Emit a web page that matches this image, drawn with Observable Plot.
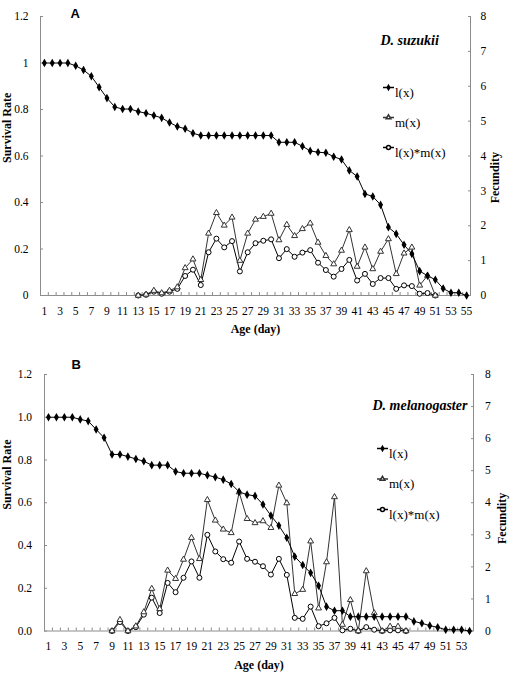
<!DOCTYPE html>
<html><head><meta charset="utf-8">
<script src="https://cdn.jsdelivr.net/npm/d3@7"></script>
<script src="https://cdn.jsdelivr.net/npm/@observablehq/plot@0.6"></script>
<style>
html,body{margin:0;padding:0;background:#fff;}
#chart{width:510px;height:676px;overflow:hidden;}
#chart svg{display:block;font-family:"Liberation Serif","Times New Roman",serif;}
#chart svg text{font-family:"Liberation Serif","Times New Roman",serif;}
#chart svg .sans text, #chart svg text.sans{font-family:"Liberation Sans",Arial,sans-serif;}
</style></head><body><div id="chart"></div>
<script>
// ---------- categories & ticks ----------
const agesA = d3.range(1, 56);
const agesB = d3.range(1, 55);
const ageTicksA = [1,3,5,7,9,11,13,15,17,19,21,23,25,27,29,31,33,35,37,39,41,43,45,47,49,51,53,55];
const ageTicksB = [1,3,5,7,9,11,13,15,17,19,21,23,25,27,29,31,33,35,37,39,41,43,45,47,49,51,53];
const survivalTicks = [0, 0.2, 0.4, 0.6, 0.8, 1.0, 1.2];
const fecundityTicks = [0, 1, 2, 3, 4, 5, 6, 7, 8];
const legendLabels = ["l(x)", "m(x)", "l(x)*m(x)"];

// ---------- Panel A: D. suzukii ----------
const lxA = [1,1,1,1,0.988,0.97,0.943,0.896,0.849,0.811,0.802,0.802,0.791,0.784,0.774,0.764,0.744,0.727,0.717,0.698,
  0.688,0.688,0.688,0.688,0.688,0.688,0.688,0.688,0.688,0.688,
  0.659,0.659,0.659,0.642,0.622,0.616,0.614,0.597,0.585,0.538,0.512,0.437,0.426,0.390,0.294,0.265,0.218,0.179,0.105,0.085,0.068,0.030,0.012,0.012,0];
const mxA = [null,null,null,null,null,null,null,null,null,null,null,null,
  0,0.03,0.14,0.07,0.14,0.24,0.79,1.04,0.45,1.78,2.37,2.01,2.24,1.0,1.78,2.18,2.26,2.35,1.59,2.03,1.71,1.91,2.07,1.52,1.14,0.90,1.29,1.88,0.83,1.38,0.76,1.26,1.62,0.62,1.21,1.38,0.29,0.57,0,
  null,null,null,null];
const lmxA = [null,null,null,null,null,null,null,null,null,null,null,null,
  0,0.02,0.11,0.05,0.11,0.19,0.56,0.74,0.30,1.24,1.63,1.38,1.56,0.69,1.24,1.50,1.57,1.61,1.07,1.33,1.11,1.23,1.30,0.94,0.73,0.54,0.76,1.02,0.43,0.62,0.33,0.50,0.50,0.19,0.29,0.27,0.05,0.07,0,
  null,null,null,null];

// ---------- Panel B: D. melanogaster ----------
const lxB = [1,1,1,1,0.99,0.982,0.943,0.904,0.826,0.826,0.816,0.805,0.794,0.776,0.776,0.776,0.746,0.738,0.738,0.738,
  0.729,0.72,0.708,0.688,0.651,0.638,0.632,0.592,0.54,0.493,0.436,0.348,0.309,0.272,0.212,0.114,0.095,0.095,
  0.067,0.067,0.067,0.067,0.067,0.067,0.067,0.067,0.045,0.036,0.025,0.017,0.006,0.006,0.006,0];
const mxB = [null,null,null,null,null,null,null,null,
  0,0.35,0,0.15,0.59,1.32,0.69,1.89,1.63,2.23,2.91,2.25,4.09,3.45,3.17,3.06,4.33,3.5,3.37,3.43,3.22,4.54,3.99,1.16,1.29,2.8,0.71,2.15,4.18,0.2,0.97,0,1.87,0.56,0,0.14,0.14,0,
  null,null,null,null,null,null,null,null];
const lmxB = [null,null,null,null,null,null,null,null,
  0,0.28,0,0.12,0.51,1.04,0.56,1.50,1.21,1.66,2.17,1.66,3.0,2.48,2.24,2.13,2.79,2.25,2.16,2.02,1.76,2.25,1.75,0.41,0.38,0.76,0.15,0.24,0.41,0.02,0.07,0,0.12,0.04,0,0.02,0.02,0,
  null,null,null,null,null,null,null,null];

const FEC = 1.2 / 8; // fecundity 0..8 drawn on survival 0..1.2 scale
const SERIF = "Liberation Serif";
const AXIS = "#8c8c8c";

const lineSym = {draw(ctx) { ctx.moveTo(-5.5, 0); ctx.lineTo(5.5, 0); }};

function panel(cfg) {
  const rows = cfg.ages.map((age, i) => ({age, lx: cfg.lx[i], mx: cfg.mx[i], lmx: cfg.lmx[i]}));
  const rm = rows.filter(d => d.mx != null);
  const rlm = rows.filter(d => d.lmx != null);
  const xd = [cfg.ages[0] - 0.5, cfg.ages[cfg.ages.length - 1] + 0.5];
  const bounds = d3.range(cfg.ages.length + 1).map(i => xd[0] + i);
  const styles = {
    lx: {symbol: "diamond", fill: "black", stroke: "black", r: 1.7},
    mx: {symbol: "triangle", fill: "white", stroke: "#333", r: 2.2},
    lmx: {symbol: "circle", fill: "white", stroke: "black", r: 2.5}
  };
  const legendMarks = legendLabels.flatMap((lab, i) => {
    const key = ["lx", "mx", "lmx"][i];
    const dy = cfg.legDy + i * cfg.legStep;
    return [
      Plot.dot([lab], {frameAnchor: "top-left", dx: cfg.legDx, dy, symbol: lineSym, stroke: key === "mx" ? "#333" : "black", fill: "none", r: 3}),
      Plot.dot([lab], {frameAnchor: "top-left", dx: cfg.legDx, dy, ...styles[key], r: styles[key].r * 0.8}),
      Plot.text([lab], {frameAnchor: "top-left", dx: cfg.legDx + 6.5, dy, text: d => d, textAnchor: "start", fontSize: 13, fontFamily: SERIF})
    ];
  });
  const tf = {fontFamily: SERIF, fontSize: 11.5};
  return Plot.plot({
    width: 510,
    height: cfg.height,
    marginLeft: cfg.ml, marginRight: cfg.mr, marginTop: cfg.mt, marginBottom: cfg.mb,
    x: {type: "linear", domain: xd},
    y: {type: "linear", domain: [0, 1.2]},
    style: {fontFamily: SERIF, fontSize: "11px", background: "white", color: "black", overflow: "visible"},
    marks: [
      // axis lines
      Plot.ruleY([0], {stroke: AXIS}),
      Plot.ruleX([xd[0]], {stroke: AXIS}),
      Plot.ruleX([xd[1]], {stroke: AXIS}),
      // x axis
      Plot.axisX(bounds, {tickSize: 3, insetBottom: 3, fill: "none", stroke: AXIS, label: null}),
      Plot.axisX(cfg.ageTicks, {tickSize: 0, tickPadding: cfg.xPad, stroke: "none", label: null, ...tf, tickFormat: d => String(d)}),
      // left axis
      Plot.axisY(survivalTicks, {anchor: "left", tickSize: 3, insetLeft: 3, fill: "none", stroke: AXIS, label: null}),
      Plot.axisY(survivalTicks, {anchor: "left", tickSize: 0, tickPadding: cfg.lPad, stroke: "none", label: null, ...tf, tickFormat: cfg.yFmt}),
      // right axis (fecundity)
      Plot.axisY(fecundityTicks.map(f => f * FEC), {anchor: "right", tickSize: 3, insetRight: 3, fill: "none", stroke: AXIS, label: null}),
      Plot.axisY(fecundityTicks.map(f => f * FEC), {anchor: "right", tickSize: 0, tickPadding: cfg.rPad, stroke: "none", label: null, ...tf, tickFormat: d => String(Math.round(d / FEC))}),
      // data
      Plot.line(rlm, {x: "age", y: d => d.lmx * FEC, stroke: "black", strokeWidth: 1}),
      Plot.line(rm, {x: "age", y: d => d.mx * FEC, stroke: "#333", strokeWidth: 1}),
      Plot.line(rows, {x: "age", y: "lx", stroke: "black", strokeWidth: 1}),
      Plot.dot(rlm, {x: "age", y: d => d.lmx * FEC, ...styles.lmx, strokeWidth: 1}),
      Plot.dot(rm, {x: "age", y: d => d.mx * FEC, ...styles.mx, strokeWidth: 1}),
      Plot.dot(rows, {x: "age", y: "lx", ...styles.lx}),
      // titles
      Plot.text([cfg.letter], {frameAnchor: "top-left", dx: cfg.letterDx, dy: cfg.letterDy, text: d => d, className: "sans", fontFamily: "Liberation Sans", fontWeight: "bold", fontSize: 13}),
      Plot.text([cfg.species], {frameAnchor: "top-left", dx: cfg.spDx, dy: cfg.spDy, text: d => d, fontFamily: SERIF, fontStyle: "italic", fontWeight: "bold", fontSize: 14}),
      Plot.text(["Age (day)"], {frameAnchor: "bottom", dy: cfg.xlDy, text: d => d, fontFamily: SERIF, fontWeight: "bold", fontSize: 12}),
      Plot.text(["Survival Rate"], {frameAnchor: "left", dx: cfg.slDx, dy: cfg.slDy, rotate: -90, text: d => d, fontFamily: SERIF, fontWeight: "bold", fontSize: 12}),
      Plot.text(["Fecundity"], {frameAnchor: "right", dx: cfg.flDx, dy: cfg.flDy, rotate: -90, text: d => d, fontFamily: SERIF, fontWeight: "bold", fontSize: 12}),
      ...legendMarks
    ]
  });
}

const chart = document.getElementById("chart");
chart.append(panel({
  ages: agesA, ageTicks: ageTicksA, lx: lxA, mx: mxA, lmx: lmxA,
  letter: "A", species: "D. suzukii",
  height: 338, ml: 40, mr: 40, mt: 16, mb: 43,
  xPad: 11, lPad: 12, rPad: 10,
  yFmt: d => String(+d.toFixed(1)),
  letterDx: 30, letterDy: -8, spDx: 340, spDy: 19,
  xlDy: 37, slDx: -33, slDy: 7, flDx: 25, flDy: -4,
  legDx: 348, legDy: 71, legStep: 30
}));
chart.append(panel({
  ages: agesB, ageTicks: ageTicksB, lx: lxB, mx: mxB, lmx: lmxB,
  letter: "B", species: "D. melanogaster",
  height: 338, ml: 44, mr: 37, mt: 36, mb: 45.5,
  xPad: 10.5, lPad: 12.5, rPad: 11.5,
  yFmt: d => d.toFixed(1),
  letterDx: 27, letterDy: -15, spDx: 328, spDy: 26,
  xlDy: 37.5, slDx: -37, slDy: 7, flDx: 29, flDy: -10,
  legDx: 338, legDy: 74, legStep: 30.5
}));
</script></body></html>
